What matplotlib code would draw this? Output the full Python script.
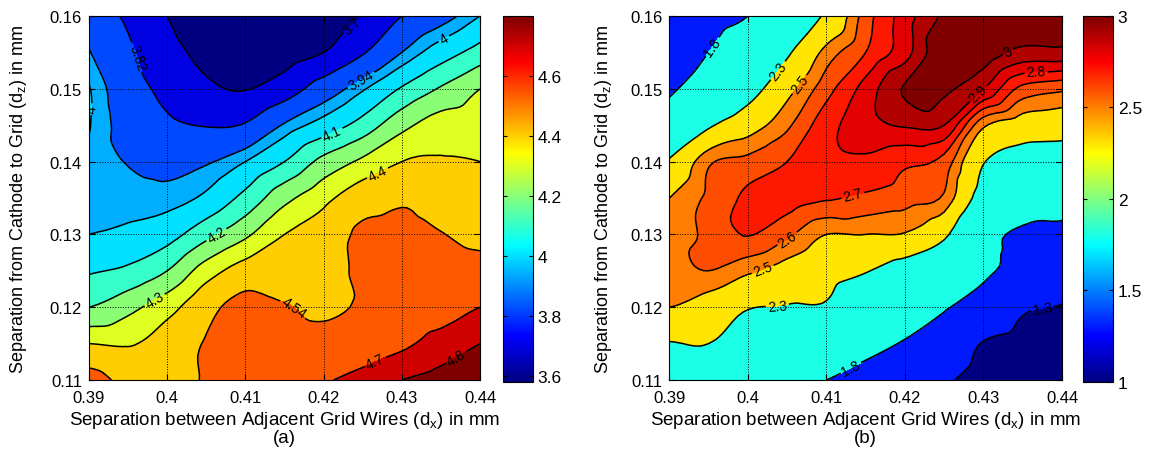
import numpy as np
import matplotlib
matplotlib.use("Agg")
import matplotlib.pyplot as plt
import matplotlib.tri as mtri
from matplotlib.colors import LinearSegmentedColormap, Normalize
from matplotlib.cm import ScalarMappable

plt.rcParams['font.family'] = ['Liberation Sans', 'DejaVu Sans']

# grid of the two maps (rows from dz = 0.16 down to 0.11)
dx = [0.39, 0.395, 0.40, 0.405, 0.41, 0.415, 0.42, 0.425, 0.43, 0.435, 0.44]
dz = [0.16, 0.155, 0.15, 0.145, 0.14, 0.135, 0.13, 0.125, 0.12, 0.115, 0.11]

# panel (a) values
val_a = [
    [3.88, 3.80, 3.70, 3.62, 3.60, 3.58, 3.62, 3.70, 3.82, 3.90, 4.00],
    [3.945, 3.84, 3.74, 3.67, 3.64, 3.65, 3.70, 3.81, 3.94, 4.05, 4.14],
    [4.005, 3.87, 3.79, 3.72, 3.695, 3.76, 3.88, 3.99, 4.11, 4.21, 4.30],
    [4.005, 3.90, 3.84, 3.815, 3.83, 3.95, 4.04, 4.14, 4.27, 4.35, 4.36],
    [3.98, 3.935, 3.91, 3.93, 4.00, 4.10, 4.23, 4.32, 4.40, 4.41, 4.40],
    [3.97, 3.97, 3.97, 4.02, 4.13, 4.27, 4.37, 4.47, 4.52, 4.48, 4.45],
    [4.00, 4.02, 4.06, 4.17, 4.28, 4.40, 4.45, 4.57, 4.58, 4.545, 4.50],
    [4.09, 4.12, 4.20, 4.35, 4.45, 4.46, 4.48, 4.57, 4.60, 4.60, 4.60],
    [4.20, 4.27, 4.36, 4.49, 4.60, 4.55, 4.51, 4.56, 4.63, 4.65, 4.70],
    [4.40, 4.39, 4.46, 4.55, 4.60, 4.60, 4.60, 4.63, 4.68, 4.74, 4.80],
    [4.60, 4.50, 4.50, 4.55, 4.62, 4.64, 4.69, 4.74, 4.80, 4.84, 4.88],
]

# panel (b) values
val_b = [
    [1.60, 1.70, 1.80, 2.10, 2.33, 2.65, 2.85, 3.02, 3.10, 3.10, 3.08],
    [1.60, 1.80, 2.00, 2.27, 2.54, 2.70, 2.86, 3.08, 3.06, 2.97, 2.97],
    [1.75, 1.97, 2.20, 2.45, 2.66, 2.84, 3.01, 3.02, 2.90, 2.67, 2.62],
    [2.00, 2.27, 2.43, 2.58, 2.76, 2.86, 2.91, 2.90, 2.52, 2.42, 2.40],
    [2.32, 2.58, 2.63, 2.70, 2.77, 2.78, 2.72, 2.66, 2.31, 2.20, 2.17],
    [2.50, 2.62, 2.72, 2.74, 2.71, 2.68, 2.64, 2.58, 2.20, 2.05, 1.95],
    [2.55, 2.62, 2.705, 2.62, 2.50, 2.50, 2.49, 2.34, 1.92, 1.74, 1.72],
    [2.55, 2.60, 2.52, 2.44, 2.36, 2.31, 2.20, 2.05, 1.85, 1.70, 1.51],
    [2.50, 2.42, 2.31, 2.29, 2.28, 2.15, 2.00, 1.83, 1.65, 1.35, 1.28],
    [2.29, 2.30, 2.20, 2.15, 2.05, 1.92, 1.77, 1.60, 1.28, 1.18, 1.15],
    [2.20, 2.10, 2.00, 1.90, 1.80, 1.65, 1.50, 1.35, 1.15, 1.05, 1.00],
]

levels_a = [3.7, 3.82, 3.94, 4.0, 4.1, 4.2, 4.3, 4.4, 4.54, 4.7, 4.8]
levels_b = [1.3, 1.8, 2.3, 2.5, 2.6, 2.7, 2.8, 2.9, 3.0]
clim_a = (3.58, 4.8)
clim_b = (1.0, 3.0)
cbar_ticks_a = [3.6, 3.8, 4.0, 4.2, 4.4, 4.6]
cbar_ticks_b = [1, 1.5, 2, 2.5, 3]
x_ticks = [0.39, 0.40, 0.41, 0.42, 0.43, 0.44]
y_ticks = [0.11, 0.12, 0.13, 0.14, 0.15, 0.16]

# matlab style jet
jet_m = LinearSegmentedColormap('jet_m', {
    'red': [(0, 0, 0), (0.375, 0, 0), (0.625, 1, 1), (0.875, 1, 1), (1, 0.5, 0.5)],
    'green': [(0, 0, 0), (0.125, 0, 0), (0.375, 1, 1), (0.625, 1, 1), (0.875, 0, 0), (1, 0, 0)],
    'blue': [(0, 0.5, 0.5), (0.125, 1, 1), (0.375, 1, 1), (0.625, 0, 0), (1, 0, 0)]}, 256)


def draw_panel(fig, ax, cax, z, levels, clim, cticks, tag):
    X, Y = np.meshgrid(dx, dz)
    Z = np.array(z)
    # let matplotlib smooth the coarse grid (cubic refinement)
    tri = mtri.Triangulation(X.ravel(), Y.ravel())
    interp = mtri.CubicTriInterpolator(tri, Z.ravel(), kind='geom')
    tri_f, z_f = mtri.UniformTriRefiner(tri).refine_field(Z.ravel(), triinterpolator=interp, subdiv=3)

    norm = Normalize(*clim)
    bounds = [min(z_f.min(), levels[0]) - 1] + levels + [max(z_f.max(), levels[-1]) + 1]
    # each band gets the colour of its lower level, like matlab contourf
    face = [jet_m(norm(clim[0]))] + [jet_m(norm(v)) for v in levels]
    ax.tricontourf(tri_f, z_f, levels=bounds, colors=face)
    cs = ax.tricontour(tri_f, z_f, levels=levels, colors='k', linewidths=1.1)
    ax.clabel(cs, fmt='%g', fontsize=10, inline=True, inline_spacing=2)

    ax.set_xlim(dx[0], dx[-1])
    ax.set_ylim(dz[-1], dz[0])
    ax.set_xticks(x_ticks)
    ax.set_yticks(y_ticks)
    ax.set_xticklabels(['%g' % t for t in x_ticks])
    ax.set_yticklabels(['%g' % t for t in y_ticks])
    ax.tick_params(direction='in', top=True, right=True, labelsize=12, length=4)
    ax.tick_params(axis='x', pad=7)
    ax.tick_params(axis='y', pad=5)
    ax.grid(True, linestyle=':', color='k', linewidth=0.7)
    for sp in ax.spines.values():
        sp.set_linewidth(0.8)

    ax.set_xlabel(r'Separation between Adjacent Grid Wires (d$_\mathregular{x}$) in mm', fontsize=13.5)
    ax.set_ylabel(r'Separation from Cathode to Grid (d$_\mathregular{z}$) in mm', fontsize=13)
    ax.xaxis.set_label_coords(0.5, -0.08)

    cb = fig.colorbar(ScalarMappable(norm=norm, cmap=jet_m), cax=cax, ticks=cticks)
    cb.ax.set_yticklabels(['%g' % t for t in cticks])
    cb.ax.tick_params(direction='in', left=True, right=True, labelsize=12.5, length=3)
    cb.outline.set_linewidth(0.8)

    box = ax.get_position()
    fig.text(box.x0 + box.width / 2, 1 - 439 / 460, tag, ha='center', va='center', fontsize=13.5)


fig = plt.figure(figsize=(11.57, 4.6), dpi=100)
ax_a = fig.add_axes([0.0769, 0.1717, 0.338, 0.7913])
cax_a = fig.add_axes([0.4347, 0.1674, 0.0259, 0.7957])
ax_b = fig.add_axes([0.5785, 0.1717, 0.3394, 0.7913])
cax_b = fig.add_axes([0.936, 0.1674, 0.0259, 0.7957])

draw_panel(fig, ax_a, cax_a, val_a, levels_a, clim_a, cbar_ticks_a, '(a)')
draw_panel(fig, ax_b, cax_b, val_b, levels_b, clim_b, cbar_ticks_b, '(b)')
ax_a.yaxis.set_label_coords(-0.153, 0.5)
ax_b.yaxis.set_label_coords(-0.141, 0.5)

fig.savefig('out.png', dpi=100)
